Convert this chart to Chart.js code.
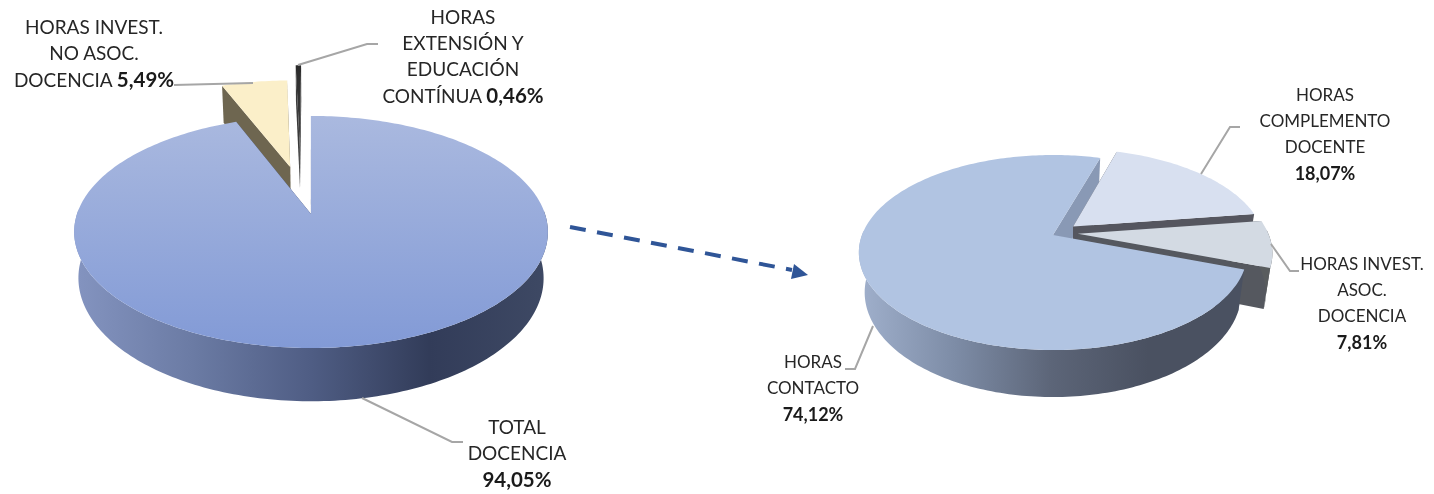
<!DOCTYPE html>
<html lang="es">
<head>
<meta charset="utf-8">
<title>Distribución de horas</title>
<script src="https://cdn.jsdelivr.net/npm/chart.js@4/dist/chart.umd.js"></script>
<style>
    html, body { margin: 0; padding: 0; background: #fff; }
    #stage { position: relative; width: 1434px; height: 494px; overflow: hidden; }
    #stage canvas, #stage svg { position: absolute; top: 0; }
    #stage svg { left: 0; }
    .lbl {
        position: absolute;
        transform: translateX(-50%);
        white-space: nowrap;
        text-align: center;
        font-family: Lato, "Open Sans", sans-serif;
        line-height: 26px;
        color: #262626;
    }
    .lbl b { font-weight: 700; color: #1a1a1a; }
    .lbl.big { font-size: 19px; }
    .lbl.big b { font-size: 20.5px; }
    .lbl.small { font-size: 17px; }
    .lbl.small b { font-size: 18px; }
</style>
</head>
<body>
<div id="stage">
    <canvas id="pie-total" width="620" height="428" style="left:0"></canvas>
    <canvas id="pie-docencia" width="760" height="470" style="left:673px"></canvas>
    <svg width="1434" height="494" id="overlay"></svg>
</div>
<script>
// Valores
const totalCategories = ['TOTAL DOCENCIA', 'HORAS INVEST. NO ASOC. DOCENCIA', 'HORAS EXTENSIÓN Y EDUCACIÓN CONTÍNUA'];
const totalValues = [94.05, 5.49, 0.46];
const docenciaCategories = ['HORAS CONTACTO', 'HORAS COMPLEMENTO DOCENTE', 'HORAS INVEST. ASOC. DOCENCIA'];
const docenciaValues = [74.12, 18.07, 7.81];

// Etiquetas: líneas de texto, la última parte va en negrita
const totalLabels = [
    { x: 517, y: 414, lines: ['TOTAL', 'DOCENCIA'], bold: '94,05%' },
    { x: 94, y: 14, lines: ['HORAS INVEST.', 'NO ASOC.', 'DOCENCIA'], bold: '5,49%', inline: true },
    { x: 463, y: 4, lines: ['HORAS', 'EXTENSIÓN Y', 'EDUCACIÓN', 'CONTÍNUA'], bold: '0,46%', inline: true }
];
const docenciaLabels = [
    { x: 813, y: 349, lines: ['HORAS', 'CONTACTO'], bold: '74,12%' },
    { x: 1325, y: 82, lines: ['HORAS', 'COMPLEMENTO', 'DOCENTE'], bold: '18,07%' },
    { x: 1362, y: 251, lines: ['HORAS INVEST.', 'ASOC.', 'DOCENCIA'], bold: '7,81%' }
];

// Líneas guía de las etiquetas
const leaderLines = [
    '174,85 253,83',
    '298,65 367,44 378,44',
    '362,398 452,442 463,442',
    '873,326 855,369 845,369',
    '1201,174 1230,127 1240,127',
    '1271,244 1290,271 1299,271'
];

// Punto de una porción en pantalla, con perspectiva (la parte de atrás se ve más pequeña)
function project(view, x0, y0, u, v, z) {
    const g = 1 / (1 - view.persp * v);
    const taper = 1 - view.taper * z / view.depth;
    return [x0 + u * g * taper, y0 + (view.tilt * v + z) * g];
}

function arcGeometry(arc, shift) {
    const { x, y, startAngle, endAngle, outerRadius } = arc.getProps(['x', 'y', 'startAngle', 'endAngle', 'outerRadius'], true);
    const mid = (startAngle + endAngle) / 2;
    const offset = arc.options.offset || 0;
    return {
        x, y, startAngle, endAngle, outerRadius,
        ox: Math.cos(mid) * offset + shift[0],
        oy: Math.sin(mid) * offset + shift[1]
    };
}

// frontOnly: solo la parte del borde que mira al observador
function rimPoints(view, geo, z, frontOnly) {
    const pts = [];
    const steps = Math.max(2, Math.ceil((geo.endAngle - geo.startAngle) / 0.02));
    for (let i = 0; i <= steps; i++) {
        const a = geo.startAngle + (geo.endAngle - geo.startAngle) * i / steps;
        if (frontOnly && Math.sin(a) < -0.05) continue;
        pts.push(project(view, geo.x, geo.y,
            geo.ox + Math.cos(a) * geo.outerRadius,
            geo.oy + Math.sin(a) * geo.outerRadius, z));
    }
    return pts;
}

function fillPath(ctx, pts, fill) {
    ctx.beginPath();
    pts.forEach((p, i) => (i ? ctx.lineTo(p[0], p[1]) : ctx.moveTo(p[0], p[1])));
    ctx.closePath();
    ctx.fillStyle = fill;
    ctx.fill();
}

function gradient(ctx, x0, y0, x1, y1, colors) {
    const grad = ctx.createLinearGradient(x0, y0, x1, y1);
    colors.forEach((c, i) => grad.addColorStop(i / (colors.length - 1), c));
    return grad;
}

function drawCuts(ctx, view, geo, i) {
    const apexTop = project(view, geo.x, geo.y, geo.ox, geo.oy, 0);
    const apexBot = project(view, geo.x, geo.y, geo.ox, geo.oy, view.depth);
    const top = rimPoints(view, geo, 0);
    const bot = rimPoints(view, geo, view.depth);
    fillPath(ctx, [apexTop, top[0], bot[0], apexBot], view.cutColors[i]);
    fillPath(ctx, [apexTop, top[top.length - 1], bot[bot.length - 1], apexBot], view.cutColors[i]);
}

function drawSlice(ctx, view, geo, i, arc, skipCuts) {
    if (!skipCuts) drawCuts(ctx, view, geo, i);
    // Pared exterior
    const wallTop = rimPoints(view, geo, 0, true);
    const wallBot = rimPoints(view, geo, view.depth, true);
    if (wallTop.length > 1) {
        const xs = wallTop.map(p => p[0]);
        const wall = gradient(ctx, Math.min(...xs), 0, Math.max(...xs), 0, view.wallColors[i]);
        fillPath(ctx, wallTop.concat(wallBot.reverse()), wall);
    }
    // Cara superior
    const top = rimPoints(view, geo, 0);
    const apex = project(view, geo.x, geo.y, geo.ox, geo.oy, 0);
    const ys = top.map(p => p[1]).concat(apex[1]);
    const colors = view.topColors[i];
    const fill = colors ? gradient(ctx, 0, Math.min(...ys), 0, Math.max(...ys), colors) : arc.options.backgroundColor;
    fillPath(ctx, [apex].concat(top), fill);
}

// Chart.js calcula los arcos, aquí solo se pintan en 3D
const pie3dPlugin = {
    id: 'pie3d',
    beforeDatasetsDraw(chart, args, view) {
        const ctx = chart.ctx;
        const arcs = chart.getDatasetMeta(0).data;
        const geos = arcs.map((arc, i) => arcGeometry(arc, view.shifts[i]));
        ctx.save();
        view.underCuts.forEach(i => drawCuts(ctx, view, geos[i], i));
        view.order.forEach(i => drawSlice(ctx, view, geos[i], i, arcs[i], view.underCuts.includes(i)));
        ctx.restore();
        return false;
    }
};

function createPie(canvasId, categories, values, colors, radius, rotation, offsets, view) {
    return new Chart(document.getElementById(canvasId), {
        type: 'pie',
        plugins: [pie3dPlugin],
        data: {
            labels: categories,
            datasets: [{ data: values, backgroundColor: colors, borderWidth: 0, offset: offsets }]
        },
        options: {
            responsive: false,
            animation: false,
            radius: radius,
            rotation: rotation,
            layout: { padding: 0 },
            plugins: { legend: { display: false }, tooltip: { enabled: false }, pie3d: view }
        }
    });
}

createPie('pie-total', totalCategories, totalValues, ['#8da2d8', '#fbefc9', '#333333'], 234, 0, [0, 106, 152], {
    persp: 0.000662,
    tilt: 0.484,
    depth: 45,
    taper: 0.018,
    shifts: [[1, 0], [0, 0], [-9, 0]],
    order: [1, 2, 0],
    underCuts: [],
    topColors: [['#aab9df', '#829ad6'], null, ['#2a2a2a', '#444444']],
    wallColors: [['#8494c0', '#6b7ba4', '#4f5d84', '#323c59', '#3e4964'], ['#6e6650', '#6e6650'], ['#222222', '#222222']],
    cutColors: ['#323c59', '#6e6650', '#3a3a3a']
});

createPie('pie-docencia', docenciaCategories, docenciaValues, ['#b1c4e2', '#d8e0f0', '#d3dae3'], 191, 110, [0, 27, 25], {
    persp: 0.00094,
    tilt: 0.494,
    depth: 38.6,
    taper: 0.03,
    shifts: [[0, 0], [0, 0], [0, -5]],
    order: [1, 2, 0],
    underCuts: [0],
    topColors: [null, null, null],
    wallColors: [['#a0b0cc', '#7d8ca6', '#5c6578', '#4a5161', '#4a5161'], ['#55565f', '#55565f'], ['#595c5e', '#595c5e']],
    cutColors: ['#8999b5', '#55565f', '#55585f']
});

// Etiquetas como texto real
const stage = document.getElementById('stage');
function renderLabel(label, size) {
    const div = document.createElement('div');
    div.className = 'lbl ' + size;
    div.style.left = label.x + 'px';
    div.style.top = label.y + 'px';
    const rows = label.lines.slice();
    if (label.inline) rows[rows.length - 1] += ` <b>${label.bold}</b>`;
    else rows.push(`<b>${label.bold}</b>`);
    div.innerHTML = rows.join('<br>');
    stage.appendChild(div);
}
totalLabels.forEach(label => renderLabel(label, 'big'));
docenciaLabels.forEach(label => renderLabel(label, 'small'));

// Líneas guía y flecha discontinua
document.getElementById('overlay').innerHTML = leaderLines.map(pts =>
    `<polyline points="${pts}" fill="none" stroke="#a6a6a6" stroke-width="2"/>`
).join('') + `
    <line x1="570" y1="227" x2="792" y2="270" stroke="#2f5597" stroke-width="4" stroke-dasharray="16 11.5"/>
    <polygon points="808,275 794,264 791,279" fill="#2f5597"/>
`;
</script>
</body>
</html>
